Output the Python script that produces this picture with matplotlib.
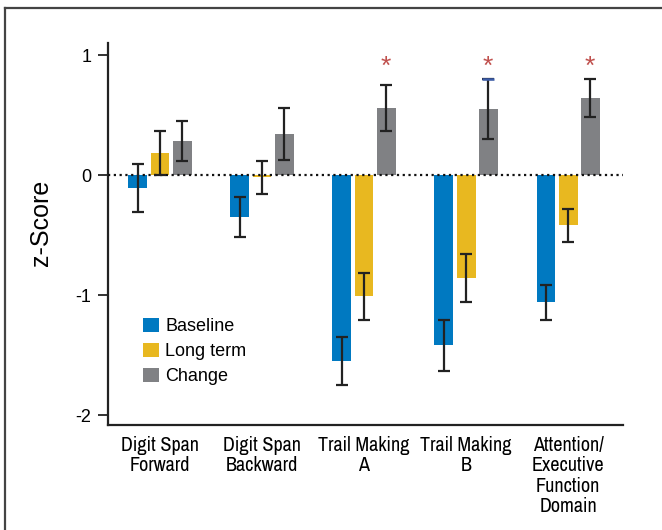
import matplotlib
matplotlib.use("Agg")
import matplotlib.pyplot as plt
from matplotlib import font_manager
from matplotlib.lines import Line2D
from matplotlib.patches import Patch
import numpy as np

categories = ["Digit Span\nForward", "Digit Span\nBackward", "Trail Making\nA",
              "Trail Making\nB", "Attention/\nExecutive\nFunction\nDomain"]
series = ["Baseline", "Long term", "Change"]
baseline = [-0.105, -0.35, -1.55, -1.42, -1.06]
baseline_err = [0.20, 0.17, 0.20, 0.21, 0.145]
longterm = [0.183, -0.02, -1.01, -0.86, -0.42]
longterm_err = [0.18, 0.14, 0.195, 0.20, 0.14]
change = [0.283, 0.342, 0.556, 0.55, 0.64]
change_err = [0.165, 0.22, 0.19, 0.25, 0.16]
significant = [False, False, True, True, True]
yticks = [1, 0, -1, -2]

colors = ["#0079C1", "#E8B820", "#808184"]
star_color = "#C0504D"

names = {f.name for f in font_manager.fontManager.ttflist}
main_font = "Liberation Sans" if "Liberation Sans" in names else "DejaVu Sans"
narrow_font = None
for f in font_manager.fontManager.ttflist:
    if ("Narrow" in f.name or "Condensed" in f.name) and narrow_font is None:
        narrow_font = f.name
for f in font_manager.fontManager.ttflist:
    st = f.stretch
    if narrow_font is None and isinstance(st, str) and "condensed" in st and "Sans" in f.name:
        narrow_font = f.name
if narrow_font is None:
    narrow_font = main_font
    xt_size = 11.5
    xt_ls = 1.25
else:
    xt_size = 14.5
    xt_ls = 1.08

fig = plt.figure(figsize=(6.62, 5.30), dpi=100)
ax = fig.add_axes([108/662, 1 - 425/530, (623-108)/662, (425-43)/530])

x = np.arange(len(categories))
offset = 0.216
width = 0.186
vals = [baseline, longterm, change]
errs = [baseline_err, longterm_err, change_err]
for i, (v, e, c) in enumerate(zip(vals, errs, colors)):
    xs = x + (i - 1) * offset
    ax.bar(xs, v, width=width, color=c, zorder=2, label=series[i])
    ax.errorbar(xs, v, yerr=e, fmt="none", ecolor="#222222", elinewidth=1.6,
                capsize=4, capthick=1.6, zorder=4)

# blue cap on Trail Making B change error bar (as in reference)
xs_c = x + offset
ax.plot([xs_c[3] - 0.055, xs_c[3] + 0.055], [change[3] + change_err[3]] * 2,
        color="#3A5BA8", lw=1.8, zorder=5, solid_capstyle="butt")

ax.axhline(0, color="#111111", lw=1.6, linestyle=(0, (1, 1.6)), zorder=3)

for xi, s in zip(xs_c, significant):
    if s:
        ax.text(xi, 0.90, "*", color=star_color, fontsize=19, ha="center",
                va="center", family=main_font)

ax.set_xlim(-0.5098, 4.539)
ax.set_ylim(-2.083, 1.1)
ax.set_yticks(yticks)
ax.set_yticklabels([str(t) for t in yticks], fontsize=13, family=main_font)
ax.set_xticks(x)
ax.set_xticklabels(categories, fontsize=xt_size, family=narrow_font, linespacing=xt_ls)
ax.tick_params(axis="x", length=0, pad=8)
ax.tick_params(axis="y", length=7, width=1.3, direction="out", pad=5, color="#222222")
for s in ["top", "right"]:
    ax.spines[s].set_visible(False)
for s in ["left", "bottom"]:
    ax.spines[s].set_linewidth(1.6)
    ax.spines[s].set_color("#222222")
ax.set_ylabel("z-Score", fontsize=18, family=main_font)
ax.yaxis.set_label_coords(-0.107, 0.53)

handles = [Patch(facecolor=c, edgecolor="none") for c in colors]
leg = fig.legend(handles, series, loc="upper left",
                 bbox_to_anchor=(143/662, 1 - 318/530), frameon=False,
                 prop={"family": main_font, "size": 13}, handlelength=0.89,
                 handleheight=0.83, handletextpad=0.35, labelspacing=0.42,
                 borderpad=0, borderaxespad=0)

# figure frame (top and left edges)
fig.add_artist(Line2D([5/662, 1], [1 - 8/530, 1 - 8/530], color="#444444", lw=1.6,
                      transform=fig.transFigure))
fig.add_artist(Line2D([5/662, 5/662], [0, 1 - 8/530], color="#444444", lw=1.6,
                      transform=fig.transFigure))

fig.savefig("out.png", dpi=100)
